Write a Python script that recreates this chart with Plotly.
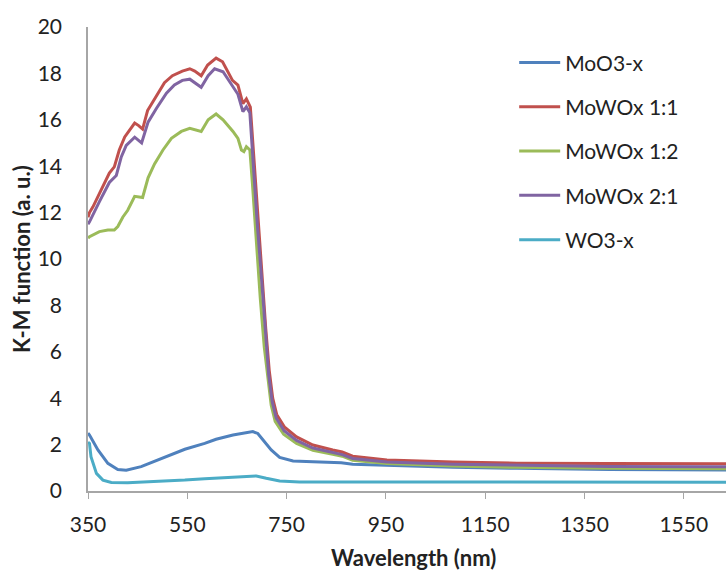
import plotly.graph_objects as go

# Kubelka-Munk spectra (wavelength in nm, K-M function in a.u.)
wl_moo3 = [350, 353, 370, 390, 410, 427, 457, 498, 545, 585, 608, 642, 669, 682, 692,
           706, 719, 736, 763, 803, 843, 860, 883, 952, 1085, 1214, 1400, 1640]
km_moo3 = [2.5, 2.41, 1.77, 1.19, 0.93, 0.9, 1.05, 1.41, 1.8, 2.05, 2.23, 2.41, 2.53, 2.56, 2.48,
           2.13, 1.77, 1.45, 1.29, 1.26, 1.24, 1.22, 1.15, 1.1, 1.02, 0.98, 0.93, 0.9]

wl_11 = [350, 353, 360, 373, 393, 403, 413, 424, 444, 452, 460, 470, 484, 504, 520, 540,
         555, 565, 578, 591, 608, 621, 641, 652, 662, 669, 677, 684, 692, 700, 708, 715,
         722, 730, 746, 770, 803, 843, 862, 883, 952, 1085, 1214, 1400, 1640]
km_11 = [11.8, 12.0, 12.25, 12.85, 13.7, 13.97, 14.7, 15.26, 15.86, 15.75, 15.6, 16.4, 16.9,
         17.6, 17.9, 18.1, 18.2, 18.1, 17.9, 18.36, 18.66, 18.5, 17.7, 17.5, 16.7, 16.9, 16.55,
         14.3, 11.8, 9.6, 7.0, 5.2, 4.0, 3.3, 2.75, 2.33, 1.98, 1.77, 1.68, 1.5, 1.34, 1.25,
         1.2, 1.18, 1.17]

wl_12 = [350, 353, 373, 390, 403, 410, 420, 430, 444, 460, 471, 484, 501, 518, 538, 555,
         578, 592, 608, 622, 642, 652, 659, 664, 669, 676, 681, 689, 697, 705, 712, 719,
         727, 744, 770, 803, 843, 862, 883, 952, 1085, 1214, 1400, 1640]
km_12 = [10.9, 10.96, 11.18, 11.25, 11.25, 11.4, 11.8, 12.1, 12.7, 12.65, 13.5, 14.1, 14.7,
         15.2, 15.5, 15.63, 15.5, 16.0, 16.25, 16.0, 15.5, 15.2, 14.7, 14.63, 14.84, 14.7,
         13.3, 10.7, 8.3, 6.2, 4.8, 3.7, 3.0, 2.45, 2.05, 1.75, 1.58, 1.5, 1.32, 1.18, 1.08,
         1.02, 0.98, 0.96]

wl_21 = [350, 353, 373, 393, 407, 417, 427, 444, 458, 471, 488, 508, 524, 540, 555, 578,
         592, 605, 622, 642, 652, 662, 669, 676, 683, 691, 699, 707, 714, 721, 729, 745,
         770, 803, 843, 862, 883, 952, 1085, 1214, 1400, 1640]
km_21 = [11.5, 11.6, 12.47, 13.3, 13.6, 14.4, 14.9, 15.25, 15.0, 15.9, 16.5, 17.15, 17.5,
         17.7, 17.75, 17.4, 17.9, 18.2, 18.07, 17.4, 17.1, 16.35, 16.56, 16.3, 14.0, 11.5,
         9.3, 6.8, 5.0, 3.85, 3.15, 2.6, 2.18, 1.85, 1.65, 1.57, 1.4, 1.25, 1.15, 1.1, 1.06,
         1.04]

wl_wo3 = [350, 353, 356, 367, 380, 397, 430, 477, 545, 585, 642, 689, 709, 736, 776, 1000, 1640]
km_wo3 = [2.1, 2.05, 1.48, 0.76, 0.47, 0.37, 0.36, 0.4, 0.47, 0.53, 0.59, 0.65, 0.55, 0.43,
          0.39, 0.38, 0.38]

series = [
    ("MoO3-x", wl_moo3, km_moo3, "#4F81BD"),
    ("MoWOx 1:1", wl_11, km_11, "#C0504D"),
    ("MoWOx 1:2", wl_12, km_12, "#9BBB59"),
    ("MoWOx 2:1", wl_21, km_21, "#8064A2"),
    ("WO3-x", wl_wo3, km_wo3, "#4BACC6"),
]

x_ticks = [350, 550, 750, 950, 1150, 1350, 1550]
y_ticks = [0, 2, 4, 6, 8, 10, 12, 14, 16, 18, 20]

FONT = "Lato, 'Open Sans', sans-serif"
TXT = "#222222"

fig = go.Figure()
for name, x, y, color in series:
    fig.add_trace(go.Scatter(x=x, y=y, mode="lines", name=name, legendgroup=name,
                             line=dict(color=color, width=3)))

fig.update_layout(
    width=726, height=571,
    margin=dict(l=88, r=0, t=27, b=80),
    paper_bgcolor="white", plot_bgcolor="white",
    font=dict(family=FONT, size=21, color=TXT),
    showlegend=True,
    legend=dict(x=0.668, y=0.967, xanchor="left", yanchor="top",
                font=dict(family=FONT, size=21, color=TXT), itemwidth=41,
                tracegroupgap=14, bgcolor="rgba(0,0,0,0)"),
    xaxis=dict(range=[350, 1635], tickvals=x_ticks, ticktext=[str(v) for v in x_ticks],
               showline=True, linecolor="#A6A6A6", linewidth=1.5, ticks="outside",
               ticklen=6, tickcolor="#A6A6A6", showgrid=False, zeroline=False,
               ticklabelstandoff=8, tickfont=dict(size=21, color=TXT)),
    yaxis=dict(range=[0, 20], tickvals=y_ticks, showline=True, linecolor="#A6A6A6",
               linewidth=1.5, ticks="", showgrid=False, zeroline=False,
               ticklabelstandoff=20, tickfont=dict(size=21, color=TXT)),
    annotations=[
        dict(text="<b>Wavelength (nm)</b>", xref="paper", yref="paper", x=0.51, y=-0.144,
             xanchor="center", yanchor="middle", showarrow=False,
             font=dict(size=22, color=TXT)),
        dict(text="<b>K-M function (a. u.)</b>", xref="paper", yref="paper", x=-0.105, y=0.5,
             xanchor="center", yanchor="middle", showarrow=False, textangle=-90,
             font=dict(size=22, color=TXT)),
    ],
)

fig.write_html("out.html")
